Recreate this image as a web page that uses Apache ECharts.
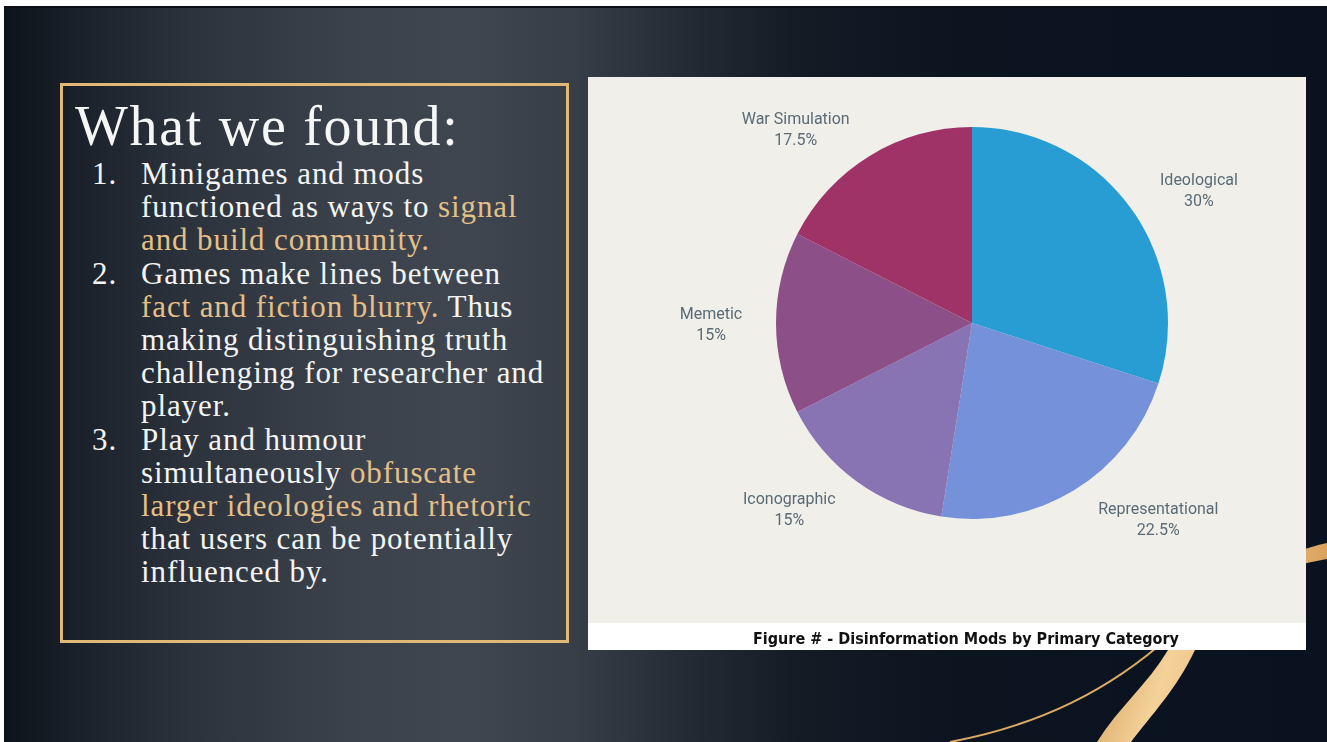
<!DOCTYPE html>
<html>
<head>
<meta charset="utf-8">
<script src="https://cdn.jsdelivr.net/npm/echarts@6/dist/echarts.min.js"></script>
<style>
  html, body { margin: 0; padding: 0; width: 1327px; height: 742px; overflow: hidden; background: #ffffff; }
  #slide {
    position: absolute; left: 4px; top: 6px; width: 1323px; height: 736px;
    border-left: 2px solid #0c0f14; border-top: 2px solid #0c0f14; box-sizing: border-box;
    background: linear-gradient(90deg, #0e141c 0%, #1b222b 6%, #2c333c 14%, #3b424c 26%, #3f4650 35%, #373e48 43%, #232a34 52%, #141b25 60%, #0c1420 72%, #0a1220 100%);
    overflow: hidden;
  }
  #swoosh { position: absolute; left: 0; top: 0; }
  #box {
    position: absolute; left: 60px; top: 83px; width: 509px; height: 560px;
    border: 3px solid #e2b877; box-sizing: border-box;
  }
  .title {
    position: absolute; left: 75px; top: 98px; font-family: 'Liberation Serif', serif;
    font-size: 56px; line-height: 56px; letter-spacing: 1.7px; color: #f6f6f4; white-space: nowrap;
  }
  #list { position: absolute; left: 0; top: 157px; }
  .ln {
    position: relative; padding-left: 141px; font-family: 'Liberation Serif', serif;
    font-size: 31px; line-height: 33.2px; height: 33.2px; letter-spacing: 0.9px; color: #f4f4f2; white-space: nowrap;
  }
  .num { position: absolute; left: 92px; }
  .g { color: #e4bf87; }
  #chart { position: absolute; left: 588px; top: 77px; width: 718px; height: 573px; }
</style>
</head>
<body>
<div id="slide"></div>
<svg id="swoosh" width="1327" height="742" style="position:absolute;left:0;top:0">
  <defs>
    <linearGradient id="gold" x1="0" y1="0" x2="1" y2="0.3">
      <stop offset="0" stop-color="#c98d45"/>
      <stop offset="0.45" stop-color="#f4d29a"/>
      <stop offset="1" stop-color="#d59c55"/>
    </linearGradient>
  </defs>
  <path d="M 1327 543 C 1262 557, 1216 600, 1195 650 C 1176 690, 1152 714, 1131 742 L 1097 742 C 1118 708, 1148 684, 1168 650 C 1192 604, 1242 574, 1327 559 Z" fill="url(#gold)"/>
  <path d="M 1170 636 C 1110 690, 1040 725, 950 742" fill="none" stroke="#dcaa63" stroke-width="2"/>
</svg>
<div id="box"></div>
<div class="title">What we found:</div>
<div id="list">
  <div class="ln"><span class="num">1.</span>Minigames and mods</div>
  <div class="ln">functioned as ways to <span class="g">signal</span></div>
  <div class="ln"><span class="g">and build community.</span></div>
  <div class="ln"><span class="num">2.</span>Games make lines between</div>
  <div class="ln"><span class="g">fact and fiction blurry.</span> Thus</div>
  <div class="ln">making distinguishing truth</div>
  <div class="ln">challenging for researcher and</div>
  <div class="ln">player.</div>
  <div class="ln"><span class="num">3.</span>Play and humour</div>
  <div class="ln">simultaneously <span class="g">obfuscate</span></div>
  <div class="ln"><span class="g">larger ideologies and rhetoric</span></div>
  <div class="ln">that users can be potentially</div>
  <div class="ln">influenced by.</div>
</div>
<div id="chart"></div>
<script>
// ---- data ----
const categories = ['Ideological', 'Representational', 'Iconographic', 'Memetic', 'War Simulation'];
const percentValues = [30, 22.5, 15, 15, 17.5];
const captionText = 'Figure # - Disinformation Mods by Primary Category';

// ---- style ----
const sliceColors = ['#289dd3', '#7491da', '#8873b3', '#8d4f88', '#9f3368'];
const labelNudge = [[31, 7], [58, -4], [-39, -3], [-20, 2], [-48, 9]];

const chart = echarts.init(document.getElementById('chart'), null, { renderer: 'canvas' });
chart.setOption({
  backgroundColor: '#f0efea',
  animation: false,
  graphic: [{
    type: 'rect', left: 0, bottom: 0, shape: { width: 718, height: 27 },
    style: { fill: '#ffffff' }, silent: true, z: -1
  }],
  title: {
    text: captionText, left: 160, top: 550,
    textStyle: { fontFamily: "'Liberation Sans Narrow', 'DejaVu Sans Condensed', sans-serif", fontWeight: 'bold', fontSize: 16, color: '#111111' }
  },
  series: [{
    type: 'pie',
    center: [384, 246],
    radius: [0, 196],
    startAngle: 90,
    clockwise: true,
    avoidLabelOverlap: false,
    data: categories.map((c, i) => ({ name: c, value: percentValues[i], itemStyle: { color: sliceColors[i] } })),
    itemStyle: { borderWidth: 0 },
    label: {
      show: true, position: 'outside',
      formatter: p => p.name + '\n' + p.value + '%',
      fontFamily: 'Roboto, sans-serif', fontSize: 16, lineHeight: 21, color: '#5a6b76'
    },
    labelLine: { show: false, length: 40, length2: 0 },
    labelLayout: p => ({ align: 'center', verticalAlign: 'middle', dx: labelNudge[p.dataIndex][0], dy: labelNudge[p.dataIndex][1] }),
    emphasis: { disabled: true }
  }]
});
</script>
</body>
</html>
